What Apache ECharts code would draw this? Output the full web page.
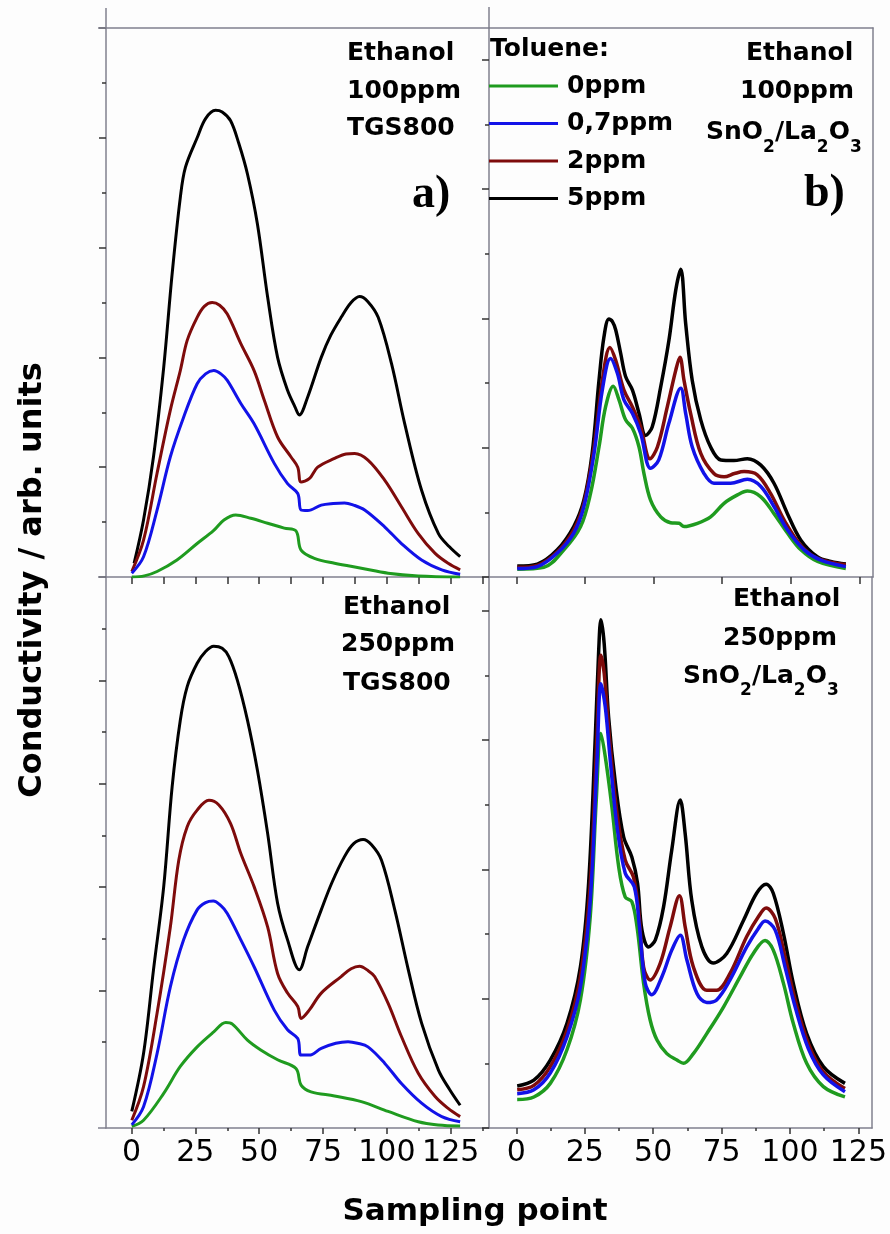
<!DOCTYPE html>
<html><head><meta charset="utf-8">
<script src="https://cdn.jsdelivr.net/npm/echarts@6/dist/echarts.min.js"></script>
<style>html,body{margin:0;padding:0;background:#fff}#c{width:890px;height:1234px}</style>
</head><body><div id="c"></div>
<script>
// ---------- data ----------
const seriesNames = ['0ppm', '0,7ppm', '2ppm', '5ppm'];
const xTickLabels = [0, 25, 50, 75, 100, 125];
const xMinorLeft = [12.5, 37.5, 62.5, 87.5, 112.5, 137.5];
const xMinorRight = [12.5, 37.5, 62.5, 87.5, 112.5];

// a) Ethanol 100ppm, TGS800
const tl_0ppm = [[0.1,0.0],[5,0.02],[10,0.1],[17.8,0.31],[25.7,0.61],[32.2,0.85],[36.2,1.04],[40.8,1.13],[46.7,1.07],[53.3,0.98],[59.8,0.89],[64.4,0.84],[66.4,0.49],[71.6,0.34],[79.5,0.25],[90,0.16],[100.5,0.07],[112.3,0.02],[128.7,0.0]];
const tl_07ppm = [[0.1,0.07],[4.7,0.37],[10,1.22],[15.2,2.19],[20.4,2.91],[25.7,3.52],[29,3.7],[32.2,3.76],[35,3.7],[37.5,3.58],[42.8,3.16],[48,2.79],[55.9,2.07],[61.1,1.7],[65.1,1.52],[66.4,1.22],[69,1.21],[74.3,1.31],[79,1.34],[83.4,1.35],[87,1.31],[91.3,1.22],[99.2,0.91],[105.7,0.61],[113.6,0.31],[121.5,0.13],[128.7,0.05]];
const tl_2ppm = [[0.1,0.1],[4.7,0.67],[10,1.89],[15.2,3.04],[19.1,3.76],[21.8,4.31],[25.7,4.73],[28.5,4.93],[31.6,5.0],[34.5,4.95],[37.5,4.79],[42.8,4.25],[48,3.76],[52,3.22],[57.2,2.55],[62.4,2.19],[65.1,2.0],[66.4,1.73],[69.6,1.79],[72.9,2.0],[79.5,2.16],[84,2.24],[87.4,2.25],[92.6,2.13],[99.2,1.76],[105.7,1.28],[112.3,0.79],[118.9,0.43],[124,0.25],[128.7,0.13]];
const tl_5ppm = [[1,0.25],[4.7,1.04],[8.6,2.19],[12.6,3.82],[15.9,5.52],[19.1,6.91],[21.1,7.46],[25.7,8.0],[29,8.35],[32.9,8.5],[35.5,8.47],[38.8,8.31],[42,7.9],[45.4,7.34],[49.3,6.43],[53.3,5.1],[57.2,4.0],[61.1,3.4],[64,3.1],[65.7,2.95],[69,3.28],[74.3,4.0],[78,4.4],[82.1,4.73],[86,5.0],[89.3,5.11],[92.5,5.02],[96.6,4.73],[101.8,3.89],[107,2.79],[113.6,1.58],[120.2,0.79],[124.5,0.55],[128.7,0.37]];

// b) Ethanol 100ppm, SnO2/La2O3
const tr_0ppm = [[0.3,0.12],[10,0.15],[17.3,0.42],[23.4,0.78],[27,1.29],[30.1,2.01],[32.5,2.63],[35.3,2.95],[37.4,2.74],[39.8,2.43],[42.3,2.3],[44.7,2.01],[46.5,1.6],[48.9,1.19],[52.6,0.93],[56.2,0.84],[59.3,0.83],[61.1,0.78],[66,0.83],[70.8,0.93],[75.7,1.14],[80.6,1.27],[84.2,1.33],[89.1,1.24],[93.9,0.98],[98.8,0.68],[103.7,0.42],[109.8,0.24],[120.1,0.13]];
const tr_07ppm = [[0.3,0.13],[7.6,0.16],[14.9,0.37],[20.9,0.68],[24.6,1.09],[28.3,1.91],[31.3,2.89],[34.3,3.38],[36.8,3.15],[39.2,2.74],[42.3,2.53],[45.3,2.22],[48.9,1.68],[51.9,1.81],[55.6,2.38],[59.9,2.92],[61.7,2.53],[64.1,2.01],[68.4,1.6],[72,1.45],[78.1,1.45],[84.2,1.51],[89.1,1.4],[93.9,1.09],[98.8,0.73],[104.9,0.42],[111,0.26],[120.1,0.16]];
const tr_2ppm = [[0.3,0.15],[7.6,0.18],[14.9,0.39],[20.9,0.73],[24.6,1.14],[28.3,2.01],[31.3,3.04],[34.1,3.55],[36.2,3.35],[39.2,2.89],[42.3,2.63],[45.3,2.32],[48.7,1.83],[51.4,2.01],[55,2.63],[58.1,3.2],[59.6,3.4],[61.1,3.04],[63.5,2.53],[67.2,1.91],[72,1.6],[75.7,1.55],[79.5,1.6],[83,1.63],[87.8,1.58],[92.7,1.29],[97.6,0.88],[103.7,0.49],[109.8,0.29],[120.1,0.19]];
const tr_5ppm = [[0.3,0.17],[7.6,0.2],[14.9,0.42],[20.9,0.78],[24.6,1.19],[27.6,1.91],[30.1,3.04],[31.9,3.71],[33.7,3.99],[35,3.95],[36.2,3.82],[38,3.46],[39.8,3.1],[42.3,2.89],[44.7,2.53],[47.1,2.19],[49.5,2.32],[52.6,2.94],[55.6,3.66],[58.1,4.44],[59.9,4.76],[61.7,3.92],[64.1,3.04],[67.2,2.43],[70.8,2.01],[74.5,1.81],[79.3,1.8],[84.2,1.83],[89.1,1.73],[93.9,1.45],[98.8,0.98],[103.7,0.57],[109.8,0.31],[114.6,0.24],[120.1,0.2]];

// Ethanol 250ppm, TGS800
const bl_0ppm = [[0.1,0.03],[4.7,0.15],[12.6,0.67],[19.1,1.19],[25.7,1.57],[32.2,1.86],[36.9,2.04],[39.5,2.01],[45.4,1.7],[50.6,1.51],[57.2,1.32],[64.4,1.15],[66.4,0.83],[70.3,0.7],[79.5,0.62],[90,0.51],[100.5,0.32],[112.3,0.12],[120,0.06],[128.7,0.04]];
const bl_07ppm = [[0.1,0.06],[4.7,0.41],[10,1.44],[15.2,2.73],[20.4,3.64],[25.7,4.22],[29,4.36],[32,4.39],[35,4.3],[37.5,4.15],[42.8,3.64],[48,3.12],[55.9,2.28],[61.1,1.9],[65.1,1.73],[66.4,1.41],[69.6,1.41],[74.3,1.54],[80,1.64],[84.8,1.67],[88.5,1.64],[92.6,1.57],[99.2,1.25],[105.7,0.86],[113.6,0.48],[121.5,0.22],[128.7,0.12]];
const bl_2ppm = [[0.1,0.15],[4.7,0.8],[10,2.22],[15.2,3.89],[18.5,5.18],[21.8,5.83],[25.7,6.15],[30.3,6.34],[34.2,6.25],[38.8,5.89],[42.8,5.31],[48,4.67],[53.3,3.89],[57.2,2.99],[61.1,2.61],[65.1,2.35],[66.4,2.12],[69.6,2.28],[74.3,2.61],[82.1,2.93],[86,3.08],[89.3,3.13],[92.5,3.05],[95.2,2.93],[100.5,2.41],[105.7,1.77],[112.3,1.06],[118.9,0.61],[124,0.38],[128.7,0.22]];
const bl_5ppm = [[0.1,0.32],[4.7,1.44],[8.6,3.06],[12.6,4.67],[15.9,6.6],[19.1,7.89],[21.8,8.54],[25.7,8.99],[29,9.22],[32.2,9.32],[35.5,9.28],[38.1,9.12],[41.4,8.67],[45.4,7.89],[49.3,6.92],[53.3,5.7],[57.2,4.35],[61.1,3.64],[65.7,3.06],[69,3.51],[74.3,4.22],[78.5,4.75],[83.4,5.25],[87,5.5],[90.7,5.58],[94,5.48],[97.9,5.18],[103.1,4.22],[108.4,3.06],[113.6,2.03],[120.2,1.12],[124.5,0.75],[128.7,0.44]];

// Ethanol 250ppm, SnO2/La2O3
const br_0ppm = [[0.3,0.44],[6.4,0.48],[12.4,0.69],[18.5,1.21],[23.4,1.98],[27,3.27],[29.2,5.07],[30.9,6.1],[32.5,5.74],[34.9,4.97],[37.4,4.04],[39.8,3.57],[42.2,3.5],[44.1,3.11],[46.5,2.24],[48.9,1.67],[51.4,1.36],[55,1.15],[58.7,1.05],[61.1,1.0],[64.7,1.15],[69.6,1.46],[75.7,1.87],[81.8,2.34],[86.6,2.7],[90.9,2.9],[93.9,2.75],[97.6,2.24],[101.2,1.62],[106.1,1.0],[112.2,0.64],[120.1,0.48]];
const br_07ppm = [[0.3,0.53],[6.4,0.59],[12.4,0.85],[18.5,1.41],[23.4,2.18],[27,3.52],[29.5,5.69],[30.9,6.87],[32.5,6.51],[34.3,5.69],[36.8,4.66],[39.8,3.94],[43.1,3.73],[45,3.11],[47.1,2.24],[49.5,2.06],[53.2,2.34],[56.8,2.75],[59.9,2.98],[62.3,2.6],[66,2.08],[69.6,1.94],[73.2,1.98],[78.1,2.29],[84.2,2.8],[88.5,3.09],[90.9,3.2],[94.6,3.06],[98.2,2.49],[101.9,1.87],[106.7,1.23],[112.2,0.82],[120.1,0.56]];
const br_2ppm = [[0.3,0.59],[6.4,0.66],[12.4,0.95],[18.5,1.51],[23.4,2.34],[27,3.78],[29.5,6.1],[30.9,7.31],[32.1,7.03],[34.1,6.0],[36.8,4.86],[39.8,4.14],[42.8,3.88],[44.7,3.37],[46.5,2.49],[48.9,2.29],[52.6,2.55],[56.2,3.11],[59.6,3.59],[61.7,3.11],[64.7,2.49],[69.6,2.13],[73.2,2.13],[78.1,2.39],[84.2,2.96],[88.5,3.27],[91.3,3.4],[94.6,3.24],[98.2,2.65],[101.9,1.98],[106.7,1.31],[112.2,0.87],[120.1,0.61]];
const br_5ppm = [[0.3,0.65],[6.4,0.74],[12.4,1.05],[18.5,1.62],[23.4,2.49],[26.4,3.78],[28.9,6.1],[30.1,7.39],[30.9,7.86],[32.1,7.49],[33.7,6.36],[36.2,5.33],[39.2,4.5],[42.2,4.19],[44.3,3.78],[45.9,3.06],[48.3,2.8],[50.8,2.91],[53.8,3.42],[56.8,4.3],[59.9,5.07],[61.7,4.55],[64.1,3.52],[67.8,2.8],[72,2.55],[76.9,2.7],[83,3.21],[87.8,3.63],[91.3,3.77],[93.9,3.63],[97.6,3.01],[101.2,2.24],[106.1,1.46],[112.2,0.95],[120.1,0.69]];

// y tick positions (arbitrary units)
const tlYMajor = [0, 2, 4, 6, 8, 10], tlYMinor = [1, 3, 5, 7, 9];
const trYMajor = [0, 2, 4, 6, 8], trYMinor = [1, 3, 5, 7];
const blYMajor = [2.66, 4.66, 6.66, 8.66], blYMinor = [1.66, 3.66, 5.66, 7.66, 9.66];
const brYMajor = [0, 2, 4, 6, 8], brYMinor = [1, 3, 5, 7];

// ---------- styling / layout ----------
const COLORS = ['#1f9b1f', '#1212e8', '#7e0b0b', '#000000'];
const AX = '#80808e', TK = '#333';
const FONT = '"DejaVu Sans", Verdana, sans-serif';
const LX0 = 106, LXM = 489, LX1 = 873, LY0 = 28, LYM = 577, LY1 = 1128;

const panels = [
  { grid: {left: LX0, top: LY0, width: LXM - LX0, height: LYM - LY0}, x: [-10, 140], y: [0, 10],
    yMaj: tlYMajor, yMin: tlYMinor, xMin: xMinorLeft, xMajLen: 7, xMinLen: 7, labels: false, top: true, right: false, lw: 3,
    data: [tl_0ppm, tl_07ppm, tl_2ppm, tl_5ppm] },
  { grid: {left: LXM, top: LY0, width: LX1 - LXM, height: LYM - LY0}, x: [-10, 130], y: [0, 8.49],
    yMaj: trYMajor, yMin: trYMinor, xMin: null, xMajLen: 7, xMinLen: 4, labels: false, top: true, right: true, lw: 3.5,
    data: [tr_0ppm, tr_07ppm, tr_2ppm, tr_5ppm] },
  { grid: {left: LX0, top: LYM, width: LXM - LX0, height: LY1 - LYM}, x: [-10, 140], y: [0, 10.66],
    yMaj: blYMajor, yMin: blYMinor, xMin: xMinorLeft, xMajLen: 6, xMinLen: 3, labels: true, top: false, right: false, lw: 3,
    data: [bl_0ppm, bl_07ppm, bl_2ppm, bl_5ppm] },
  { grid: {left: LXM, top: LYM, width: LX1 - LXM, height: LY1 - LYM}, x: [-10, 130], y: [0, 8.52],
    yMaj: brYMajor, yMin: brYMinor, xMin: xMinorRight, xMajLen: 6, xMinLen: 3, labels: true, top: false, right: true, lw: 3.5,
    data: [br_0ppm, br_07ppm, br_2ppm, br_5ppm] }
];

const xAxes = [], yAxes = [], series = [];
const hidden = {show: false};
const noLine = {show: false, onZero: false};
panels.forEach((p, gi) => {
  const xi = xAxes.length;
  xAxes.push({ type: 'value', gridIndex: gi, min: p.x[0], max: p.x[1], position: 'bottom',
    axisLine: {show: true, onZero: false, lineStyle: {color: AX, width: 1.5}},
    axisTick: {show: true, customValues: xTickLabels, length: p.xMajLen, lineStyle: {color: TK, width: 1.5}},
    axisLabel: {show: p.labels, customValues: xTickLabels, margin: 10, color: '#000', fontSize: 30, fontFamily: FONT},
    splitLine: hidden });
  if (p.xMin) xAxes.push({ type: 'value', gridIndex: gi, min: p.x[0], max: p.x[1], position: 'bottom',
    axisLine: noLine, axisLabel: hidden, splitLine: hidden,
    axisTick: {show: true, customValues: p.xMin, length: p.xMinLen, lineStyle: {color: TK, width: 1.5}} });
  if (p.top) xAxes.push({ type: 'value', gridIndex: gi, min: p.x[0], max: p.x[1], position: 'top',
    axisLine: {show: true, onZero: false, lineStyle: {color: AX, width: 1.5}}, axisTick: hidden, axisLabel: hidden, splitLine: hidden });
  const yi = yAxes.length;
  yAxes.push({ type: 'value', gridIndex: gi, min: p.y[0], max: p.y[1], position: 'left',
    axisLine: {show: true, onZero: false, lineStyle: {color: AX, width: 1.5}},
    axisTick: {show: true, customValues: p.yMaj, length: 7, lineStyle: {color: TK, width: 1.5}},
    axisLabel: hidden, splitLine: hidden });
  yAxes.push({ type: 'value', gridIndex: gi, min: p.y[0], max: p.y[1], position: 'left',
    axisLine: noLine, axisLabel: hidden, splitLine: hidden,
    axisTick: {show: true, customValues: p.yMin, length: 4, lineStyle: {color: TK, width: 1.5}} });
  if (p.right) yAxes.push({ type: 'value', gridIndex: gi, min: p.y[0], max: p.y[1], position: 'right',
    axisLine: {show: true, onZero: false, lineStyle: {color: AX, width: 1.5}}, axisTick: hidden, axisLabel: hidden, splitLine: hidden });
  [0, 3, 2, 1].forEach(k => {
    series.push({ type: 'line', name: seriesNames[k], xAxisIndex: xi, yAxisIndex: yi, data: p.data[k],
      showSymbol: false, symbol: 'none', smooth: 0.35,
      lineStyle: {color: COLORS[k], width: p.lw}, itemStyle: {color: COLORS[k]}, z: 3 });
  });
});

const B = 'bold 25px ' + FONT;
function txt(text, x, y) {
  return { type: 'text', x: x, y: y, z: 10,
    style: { text: text, font: B, fill: '#000', align: 'left', verticalAlign: 'middle' } };
}
const subRich = { s: { fontSize: 17, fontWeight: 'bold', fontFamily: FONT, verticalAlign: 'top', padding: [19, 0, 0, 0], lineHeight: 17 } };
function chem(x, y) {
  return { type: 'text', x: x, y: y, z: 10,
    style: { text: 'SnO{s|2}/La{s|2}O{s|3}', font: B, fill: '#000', align: 'left', verticalAlign: 'middle', rich: subRich } };
}
const lineSeg = (x1, y1, x2, y2) => ({ type: 'line', shape: {x1, y1, x2, y2}, style: {stroke: AX, lineWidth: 1.5}, z: 5 });

const graphic = [
  // frame extensions
  lineSeg(LX0, 8, LX0, LY0), lineSeg(LXM, 7, LXM, LY0),
  lineSeg(98, LY0, LX0, LY0), lineSeg(98, LYM, LX0, LYM), lineSeg(98, LY1, LX0, LY1),
  // panel annotations
  txt('Ethanol', 347, 53.4), txt('100ppm', 347, 91.4), txt('TGS800', 347, 128.4),
  txt('Ethanol', 746, 53.4), txt('100ppm', 740, 91.4), chem(706, 132.4),
  txt('Ethanol', 343, 607.3), txt('250ppm', 341, 644.3), txt('TGS800', 343, 683.3),
  txt('Ethanol', 733, 599.3), txt('250ppm', 723, 638.3), chem(683, 676),
  txt('Toluene:', 490, 49.3),
  { type: 'text', x: 412, y: 195, z: 10, style: { text: 'a)', font: 'bold 46px "Liberation Serif", "Times New Roman", serif', fill: '#000', verticalAlign: 'middle' } },
  { type: 'text', x: 804, y: 194, z: 10, style: { text: 'b)', font: 'bold 46px "Liberation Serif", "Times New Roman", serif', fill: '#000', verticalAlign: 'middle' } },
  // axis titles
  { type: 'text', x: 33, y: 580, rotation: Math.PI / 2, z: 10,
    style: { text: 'Conductivity / arb. units', font: 'bold 32px ' + FONT, fill: '#000', align: 'center', verticalAlign: 'middle' } },
  { type: 'text', x: 475, y: 1212, z: 10,
    style: { text: 'Sampling point', font: 'bold 31px ' + FONT, fill: '#000', align: 'center', verticalAlign: 'middle' } }
];

const chart = echarts.init(document.getElementById('c'), null, {renderer: 'canvas'});
chart.setOption({
  animation: false,
  backgroundColor: '#fdfdfd',
  textStyle: {fontFamily: FONT},
  grid: panels.map(p => Object.assign({containLabel: false}, p.grid)),
  xAxis: xAxes,
  yAxis: yAxes,
  legend: {
    data: seriesNames, orient: 'vertical', left: LXM, top: 72, padding: 0,
    icon: 'rect', itemWidth: 69, itemHeight: 3, itemGap: 9.5,
    textStyle: {fontFamily: FONT, fontWeight: 'bold', fontSize: 25, color: '#000', lineHeight: 28, padding: [0, 0, 0, 4]}
  },
  series: series,
  graphic: graphic
});
</script></body></html>
